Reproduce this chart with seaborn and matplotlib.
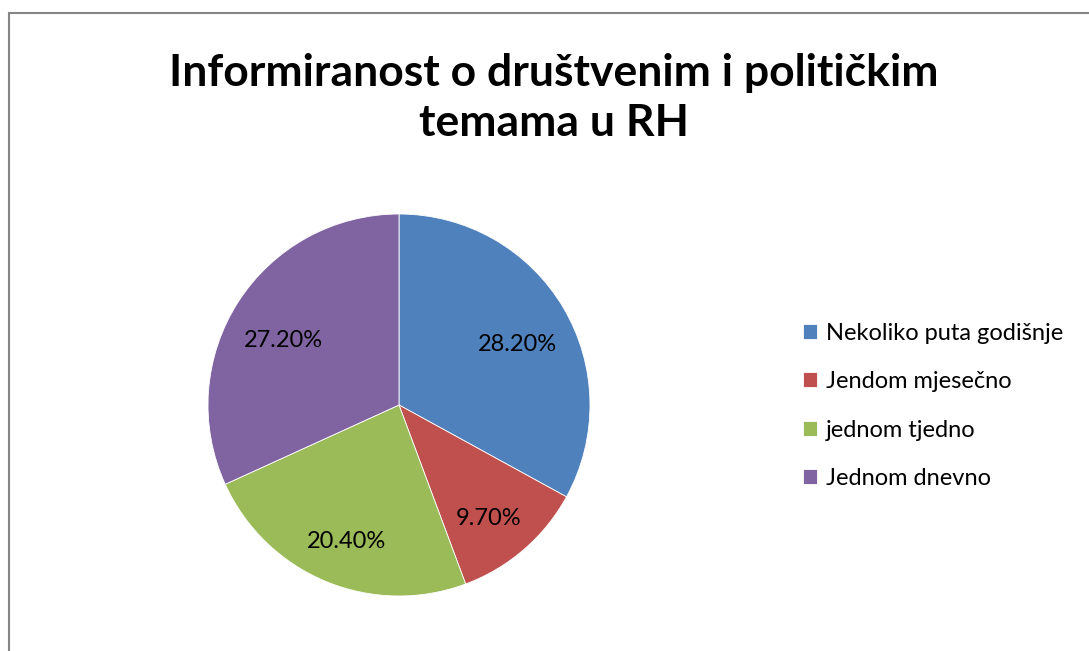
import matplotlib
matplotlib.use("Agg")
import matplotlib.pyplot as plt
import seaborn as sns
from matplotlib.patches import Rectangle

# data
categories = ["Nekoliko puta godišnje", "Jendom mjesečno", "jednom tjedno", "Jednom dnevno"]
values = [28.2, 9.7, 20.4, 27.2]
label_texts = ["28.20%", "9.70%", "20.40%", "27.20%"]
title = "Informiranost o društvenim i političkim\ntemama u RH"

sns.set_theme(style="white")
plt.rcParams["font.family"] = ["Lato", "DejaVu Sans"]
colors = sns.color_palette(["#4F81BD", "#C0504D", "#9BBB59", "#8064A2"])

W, H = 1089, 651
fig = plt.figure(figsize=(W / 100, H / 100), dpi=100)

# pie axes: centre (399, 405) px, radius 191 px
cx, cy, r = 399, 405, 191
ax = fig.add_axes([(cx - r) / W, 1 - (cy + r) / H, 2 * r / W, 2 * r / H])
wedges, texts = ax.pie(
    values,
    colors=colors,
    startangle=90,
    counterclock=False,
    labels=label_texts,
    labeldistance=0.72,
    wedgeprops=dict(edgecolor="white", linewidth=0.6),
    textprops=dict(fontsize=17, color="black"),
)
# labels sit a little lower than the slice midpoints, like in the original
for t in texts:
    x, y = t.get_position()
    t.set_position((x, y - 0.05))
    t.set_ha("center")
    t.set_va("center")
ax.set_xlim(-1, 1)
ax.set_ylim(-1, 1)
ax.set_aspect("equal")

fig.text(554 / W, 1 - 98 / H, title, ha="center", va="center", color="black",
         fontsize=32, fontweight="bold", linespacing=1.3)

fig.legend(
    wedges, categories,
    loc="center left",
    bbox_to_anchor=(803 / W, 1 - 406 / H),
    frameon=False,
    fontsize=17,
    labelcolor="black",
    borderpad=0,
    borderaxespad=0,
    handlelength=0.6,
    handleheight=0.6,
    handletextpad=0.38,
    labelspacing=1.16,
)

# outer chart border (left and top visible)
fig.patches.append(Rectangle((8.5 / W, -0.1), 1.2, 1 - 12.5 / H + 0.1, fill=False,
                             edgecolor="#868686", linewidth=1.5,
                             transform=fig.transFigure, figure=fig))

fig.savefig("out.png", dpi=100)
